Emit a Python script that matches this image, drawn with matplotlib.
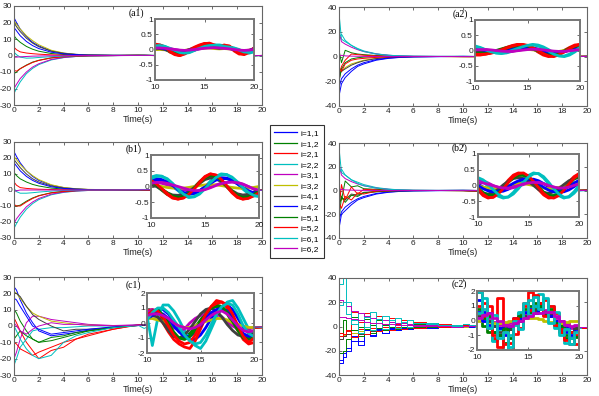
import matplotlib.pyplot as plt

plt.rcParams['font.family'] = 'Liberation Sans'
plt.rcParams['axes.unicode_minus'] = False

# time samples: transient part (0-8 s) and the zoomed window (10-20 s)
t_main = [0, 0.2, 0.5, 1, 1.5, 2, 3, 4, 5, 6, 8]
t_c2 = [0, 0.3, 0.6, 1, 1.5, 2, 2.5, 3, 3.5, 4, 4.5, 5, 5.5, 6, 7, 8, 9]
t_zoom = [10, 10.5, 11, 11.5, 12, 12.5, 13, 13.5, 14, 14.5, 15,
          15.5, 16, 16.5, 17, 17.5, 18, 18.5, 19, 19.5, 20]

labels = ['i=1,1', 'i=1,2', 'i=2,1', 'i=2,2', 'i=3,1', 'i=3,2',
          'i=4,1', 'i=4,2', 'i=5,1', 'i=5,2', 'i=6,1', 'i=6,2']
colors = ['#0000ff', '#008000', '#ff0000', '#00bfbf', '#bf00bf', '#bfbf00',
          '#404040', '#0000ff', '#008000', '#ff0000', '#00bfbf', '#bf00bf']

# ---- (a1)
a1_main = [
    [23, 20, 16, 11.5, 8, 5.8, 2.8, 1.4, 0.7, 0.3, 0.1],
    [12, 10, 8, 5.5, 3.8, 2.6, 1.2, 0.6, 0.3, 0.15, 0.05],
    [5, 3.5, 2.2, 1.5, 1.1, 0.8, 0.4, 0.2, 0.1, 0.05, 0.02],
    [-23, -20, -16, -11, -7.8, -5.5, -2.7, -1.3, -0.6, -0.3, -0.1],
    [-20, -17.5, -14, -10, -7, -5, -2.4, -1.2, -0.6, -0.3, -0.1],
    [21, 19, 16, 12, 9, 6.5, 3.2, 1.5, 0.7, 0.3, 0.1],
    [20, 17.5, 14.5, 10.5, 7.5, 5.3, 2.6, 1.3, 0.6, 0.3, 0.1],
    [17, 15, 12, 8.5, 6, 4.2, 2, 1, 0.5, 0.2, 0.1],
    [-11, -10, -8, -5.8, -4, -2.9, -1.4, -0.7, -0.35, -0.15, -0.05],
    [-9, -9.5, -8, -6, -4.2, -3, -1.5, -0.7, -0.35, -0.15, -0.05],
    [2, 0.5, -1, -1.6, -1.5, -1.2, -0.7, -0.35, -0.15, -0.07, 0],
    [-1, -1, -0.8, -0.6, -0.4, -0.3, -0.15, -0.1, -0.05, 0, 0],
]
a1_zoom = [
    [0.05, 0.04, 0.0, -0.05, -0.08, -0.1, -0.06, 0.0, 0.04, 0.07, 0.1, 0.1, 0.07, 0.05, 0.07, 0.05, 0.0, -0.05, -0.07, -0.03, 0.02],
    [0.1, 0.08, 0.02, -0.08, -0.13, -0.15, -0.1, -0.02, 0.05, 0.1, 0.15, 0.15, 0.1, 0.06, 0.1, 0.08, -0.02, -0.1, -0.12, -0.05, 0.03],
    [0.15, 0.12, 0.05, -0.08, -0.17, -0.2, -0.12, 0.0, 0.08, 0.15, 0.2, 0.2, 0.12, 0.1, 0.15, 0.1, -0.05, -0.15, -0.15, -0.05, 0.05],
    [0.15, 0.15, 0.1, 0.02, -0.05, -0.1, -0.13, -0.1, -0.03, 0.05, 0.1, 0.12, 0.15, 0.15, 0.12, 0.08, 0.05, 0.0, -0.08, -0.12, -0.08],
    [0.02, 0.04, 0.05, 0.03, 0.0, -0.03, -0.05, -0.05, -0.02, 0.02, 0.05, 0.07, 0.08, 0.07, 0.05, 0.03, 0.0, -0.03, -0.05, -0.04, -0.02],
    [0.0, 0.0, -0.01, -0.03, -0.05, -0.05, -0.03, 0.0, 0.02, 0.04, 0.05, 0.05, 0.03, 0.02, 0.03, 0.02, 0.0, -0.03, -0.04, -0.02, 0.0],
    [0.04, 0.03, 0.0, -0.04, -0.07, -0.08, -0.05, 0.0, 0.03, 0.06, 0.08, 0.08, 0.06, 0.04, 0.05, 0.04, 0.0, -0.05, -0.06, -0.03, 0.01],
    [0.08, 0.06, 0.02, -0.04, -0.1, -0.12, -0.08, -0.02, 0.04, 0.08, 0.12, 0.13, 0.09, 0.06, 0.08, 0.06, -0.01, -0.07, -0.1, -0.05, 0.03],
    [0.12, 0.1, 0.05, -0.05, -0.12, -0.15, -0.12, -0.04, 0.04, 0.1, 0.15, 0.17, 0.12, 0.08, 0.1, 0.1, 0.0, -0.1, -0.14, -0.08, 0.02],
    [0.18, 0.15, 0.08, -0.05, -0.15, -0.2, -0.15, -0.03, 0.06, 0.13, 0.19, 0.21, 0.15, 0.1, 0.13, 0.12, 0.0, -0.12, -0.17, -0.1, 0.02],
    [0.12, 0.13, 0.1, 0.04, -0.03, -0.1, -0.12, -0.08, -0.02, 0.04, 0.1, 0.13, 0.14, 0.13, 0.1, 0.08, 0.04, -0.02, -0.08, -0.1, -0.05],
    [0.05, 0.05, 0.04, 0.02, 0.0, -0.02, -0.03, -0.02, 0.0, 0.02, 0.04, 0.05, 0.06, 0.05, 0.04, 0.02, 0.0, -0.02, -0.03, -0.02, 0.0],
]

# ---- (a2)
a2_main = [
    [-32, -22, -17, -12, -8, -6, -3, -1.5, -0.7, -0.3, -0.1],
    [5, -5, 5, 3, 2, 1.5, 0.8, 0.4, 0.2, 0.1, 0],
    [-20, -8, -3, 2, 1.5, 1, 0.5, 0.2, 0.1, 0, 0],
    [35, 14, 12, 9, 6.5, 4.5, 2.2, 1, 0.5, 0.2, 0.1],
    [20, 12, 10, 7.5, 5.5, 4, 2, 1, 0.4, 0.2, 0.1],
    [-10, -12, -9, -6, -4.5, -3, -1.5, -0.7, -0.3, -0.1, 0],
    [-15, -12, -10, -7, -5, -3.5, -1.7, -0.8, -0.4, -0.2, 0],
    [-25, -18, -14, -10, -7, -5, -2.5, -1.2, -0.6, -0.3, -0.1],
    [-20, -10, -5, -2, -1, -0.5, -0.2, 0, 0, 0, 0],
    [-8, -12, -6, -3, -2, -1.5, -0.7, -0.3, -0.1, 0, 0],
    [15, 18, 13, 9, 6, 4, 2, 1, 0.5, 0.2, 0.1],
    [0, 1, 0.5, 0.3, 0.2, 0.1, 0, 0, 0, 0, 0],
]
a2_zoom = [
    [0.05, 0.02, 0.0, -0.03, -0.04, -0.03, 0.0, 0.04, 0.07, 0.09, 0.09, 0.06, 0.02, -0.03, -0.07, -0.09, -0.07, -0.03, 0.02, 0.06, 0.09],
    [-0.1, -0.1, -0.08, -0.05, 0.0, 0.05, 0.1, 0.14, 0.17, 0.17, 0.13, 0.06, -0.03, -0.12, -0.16, -0.15, -0.08, 0.0, 0.08, 0.14, 0.17],
    [-0.15, -0.15, -0.12, -0.08, -0.03, 0.03, 0.1, 0.16, 0.2, 0.2, 0.15, 0.07, -0.05, -0.15, -0.2, -0.18, -0.1, 0.0, 0.1, 0.18, 0.2],
    [0.15, 0.1, 0.03, -0.03, -0.08, -0.1, -0.08, -0.03, 0.03, 0.1, 0.16, 0.2, 0.18, 0.12, 0.03, -0.08, -0.17, -0.2, -0.15, -0.05, 0.08],
    [0.05, 0.05, 0.03, 0.0, -0.03, -0.05, -0.05, -0.03, 0.0, 0.03, 0.05, 0.06, 0.05, 0.02, -0.02, -0.05, -0.06, -0.04, 0.0, 0.03, 0.05],
    [0.0, -0.01, -0.02, -0.03, -0.03, -0.02, 0.0, 0.02, 0.04, 0.05, 0.04, 0.02, 0.0, -0.03, -0.05, -0.05, -0.03, 0.0, 0.02, 0.04, 0.05],
    [-0.02, -0.04, -0.05, -0.04, -0.02, 0.01, 0.05, 0.08, 0.1, 0.1, 0.08, 0.04, -0.01, -0.06, -0.1, -0.1, -0.07, -0.02, 0.03, 0.08, 0.1],
    [0.08, 0.04, 0.0, -0.04, -0.06, -0.05, -0.02, 0.03, 0.07, 0.1, 0.11, 0.09, 0.04, -0.02, -0.07, -0.1, -0.09, -0.04, 0.02, 0.07, 0.1],
    [-0.08, -0.1, -0.1, -0.07, -0.02, 0.03, 0.08, 0.13, 0.16, 0.18, 0.15, 0.08, -0.01, -0.1, -0.15, -0.16, -0.1, -0.02, 0.07, 0.13, 0.16],
    [-0.12, -0.13, -0.12, -0.09, -0.05, 0.02, 0.08, 0.14, 0.18, 0.2, 0.17, 0.1, 0.0, -0.1, -0.18, -0.2, -0.14, -0.05, 0.06, 0.15, 0.2],
    [0.12, 0.08, 0.02, -0.04, -0.08, -0.09, -0.06, 0.0, 0.06, 0.12, 0.17, 0.18, 0.15, 0.08, -0.02, -0.12, -0.18, -0.18, -0.12, -0.02, 0.1],
    [0.02, 0.03, 0.03, 0.02, 0.0, -0.02, -0.03, -0.03, -0.01, 0.01, 0.03, 0.04, 0.04, 0.02, 0.0, -0.02, -0.03, -0.03, -0.01, 0.01, 0.03],
]

# ---- (b1)
b1_main = [
    [24, 21, 17, 12, 8.5, 6, 3, 1.5, 0.7, 0.3, 0.1],
    [11, 9, 7, 5, 3.5, 2.5, 1.2, 0.6, 0.3, 0.1, 0],
    [5, 3, 1.5, 1, 0.7, 0.5, 0.3, 0.1, 0.05, 0, 0],
    [-24, -21, -17, -12, -8.5, -6, -3, -1.5, -0.7, -0.3, -0.1],
    [-21, -18, -15, -10.5, -7.5, -5.3, -2.6, -1.3, -0.6, -0.3, -0.1],
    [21, 19, 16, 12, 9, 6.5, 3.3, 1.6, 0.8, 0.4, 0.1],
    [19, 17, 14, 10, 7, 5, 2.5, 1.2, 0.6, 0.3, 0.1],
    [17, 15, 12, 8.5, 6, 4.2, 2, 1, 0.5, 0.2, 0.1],
    [-10, -10, -9.5, -7, -5, -3.5, -1.7, -0.8, -0.4, -0.2, 0],
    [-9, -10, -10, -7.5, -5.3, -3.7, -1.8, -0.9, -0.4, -0.2, 0],
    [1, -1, -2, -2, -1.7, -1.3, -0.7, -0.3, -0.15, -0.07, 0],
    [-1, -0.5, 0, 0, 0, 0, 0, 0, 0, 0, 0],
]
b1_zoom = [
    [0.2, 0.25, 0.22, 0.13, 0.0, -0.12, -0.22, -0.25, -0.22, -0.13, 0.0, 0.13, 0.23, 0.28, 0.27, 0.2, 0.08, -0.05, -0.16, -0.22, -0.22],
    [0.1, 0.02, -0.12, -0.25, -0.33, -0.35, -0.3, -0.18, -0.02, 0.15, 0.28, 0.33, 0.3, 0.17, 0.0, -0.17, -0.3, -0.33, -0.3, -0.22, -0.12],
    [0.15, 0.05, -0.1, -0.25, -0.37, -0.4, -0.35, -0.22, -0.05, 0.15, 0.32, 0.4, 0.35, 0.2, 0.0, -0.2, -0.35, -0.4, -0.36, -0.28, -0.18],
    [0.3, 0.35, 0.33, 0.22, 0.05, -0.13, -0.28, -0.35, -0.32, -0.2, -0.02, 0.17, 0.32, 0.4, 0.38, 0.27, 0.1, -0.08, -0.22, -0.3, -0.3],
    [0.15, 0.13, 0.1, 0.05, 0.0, -0.05, -0.1, -0.13, -0.15, -0.13, -0.08, -0.02, 0.05, 0.1, 0.13, 0.15, 0.13, 0.08, 0.0, -0.08, -0.13],
    [0.05, 0.03, 0.0, -0.03, -0.05, -0.06, -0.05, -0.03, 0.0, 0.03, 0.05, 0.06, 0.05, 0.03, 0.0, -0.03, -0.05, -0.06, -0.05, -0.03, 0.0],
    [0.05, 0.0, -0.1, -0.2, -0.27, -0.28, -0.25, -0.16, -0.03, 0.1, 0.22, 0.27, 0.25, 0.15, 0.0, -0.13, -0.23, -0.27, -0.25, -0.18, -0.1],
    [0.15, 0.2, 0.2, 0.14, 0.03, -0.1, -0.19, -0.23, -0.21, -0.14, -0.02, 0.1, 0.2, 0.25, 0.25, 0.19, 0.09, -0.03, -0.13, -0.2, -0.2],
    [0.15, 0.05, -0.08, -0.2, -0.3, -0.35, -0.32, -0.22, -0.06, 0.12, 0.27, 0.35, 0.33, 0.2, 0.02, -0.15, -0.28, -0.35, -0.33, -0.25, -0.15],
    [0.2, 0.08, -0.07, -0.22, -0.35, -0.4, -0.37, -0.25, -0.08, 0.12, 0.3, 0.4, 0.37, 0.23, 0.03, -0.17, -0.33, -0.4, -0.38, -0.3, -0.2],
    [0.25, 0.32, 0.32, 0.25, 0.1, -0.08, -0.24, -0.33, -0.33, -0.24, -0.07, 0.12, 0.28, 0.37, 0.38, 0.3, 0.15, -0.03, -0.18, -0.28, -0.32],
    [0.1, 0.13, 0.13, 0.1, 0.05, 0.0, -0.05, -0.1, -0.13, -0.13, -0.1, -0.04, 0.03, 0.09, 0.13, 0.14, 0.12, 0.07, 0.0, -0.07, -0.12],
]

# ---- (b2)
b2_main = [
    [-32, -20, -17, -12, -8, -6, -3, -1.5, -0.7, -0.3, -0.1],
    [5, -8, 8, 3, 4, 1.5, 1, 0.4, 0.2, 0.1, 0],
    [-15, 5, -8, 3, -3, 1, 0.5, 0.2, 0.1, 0, 0],
    [36, 15, 13, 9, 7, 5, 2.5, 1.2, 0.5, 0.2, 0.1],
    [22, 13, 10, 7.5, 5.5, 4, 2, 1, 0.4, 0.2, 0.1],
    [-10, -8, -6, -4, -3, -2, -1, -0.5, -0.2, -0.1, 0],
    [-12, -6, -8, -3, -4, -1.5, -1, -0.4, -0.2, -0.1, 0],
    [-25, -18, -14, -10, -7, -5, -2.5, -1.2, -0.6, -0.3, -0.1],
    [-25, -5, -10, -4, -5, -2, -1, -0.5, -0.2, -0.1, 0],
    [-10, -15, -5, -8, -2, -3, -0.5, -0.3, -0.1, 0, 0],
    [15, 18, 13, 9, 6, 4, 2, 1, 0.5, 0.2, 0.1],
    [0, 1, 0.5, 0.3, 0.2, 0.1, 0, 0, 0, 0, 0],
]
b2_zoom = [
    [0.05, -0.05, -0.12, -0.17, -0.2, -0.18, -0.12, -0.03, 0.07, 0.15, 0.2, 0.2, 0.15, 0.06, -0.05, -0.14, -0.2, -0.2, -0.14, -0.04, 0.07],
    [-0.12, -0.27, -0.33, -0.3, -0.18, -0.02, 0.14, 0.27, 0.33, 0.32, 0.22, 0.06, -0.1, -0.25, -0.33, -0.32, -0.22, -0.06, 0.1, 0.24, 0.32],
    [-0.15, -0.32, -0.4, -0.36, -0.22, -0.03, 0.17, 0.33, 0.4, 0.38, 0.25, 0.07, -0.13, -0.3, -0.4, -0.38, -0.27, -0.08, 0.12, 0.28, 0.38],
    [0.2, 0.12, -0.02, -0.2, -0.34, -0.4, -0.36, -0.22, -0.03, 0.16, 0.32, 0.4, 0.37, 0.24, 0.05, -0.15, -0.32, -0.4, -0.35, -0.2, 0.0],
    [0.2, 0.15, 0.08, 0.0, -0.06, -0.1, -0.1, -0.07, -0.02, 0.03, 0.08, 0.1, 0.1, 0.06, 0.0, -0.05, -0.08, -0.08, -0.04, 0.02, 0.08],
    [0.0, -0.05, -0.08, -0.1, -0.08, -0.05, 0.0, 0.04, 0.06, 0.06, 0.03, 0.0, -0.04, -0.08, -0.1, -0.09, -0.06, -0.02, 0.02, 0.05, 0.06],
    [-0.15, -0.25, -0.27, -0.22, -0.12, 0.02, 0.13, 0.22, 0.25, 0.22, 0.13, 0.0, -0.13, -0.22, -0.25, -0.2, -0.1, 0.03, 0.15, 0.22, 0.25],
    [0.0, -0.1, -0.17, -0.2, -0.18, -0.12, -0.03, 0.07, 0.15, 0.2, 0.2, 0.15, 0.05, -0.06, -0.15, -0.2, -0.19, -0.12, -0.02, 0.08, 0.16],
    [-0.08, -0.22, -0.3, -0.31, -0.23, -0.08, 0.1, 0.24, 0.32, 0.34, 0.26, 0.11, -0.05, -0.21, -0.31, -0.33, -0.26, -0.12, 0.05, 0.2, 0.3],
    [-0.1, -0.27, -0.38, -0.38, -0.27, -0.1, 0.1, 0.28, 0.38, 0.4, 0.3, 0.13, -0.07, -0.25, -0.37, -0.4, -0.32, -0.15, 0.05, 0.23, 0.35],
    [0.25, 0.18, 0.05, -0.13, -0.28, -0.37, -0.37, -0.27, -0.1, 0.1, 0.27, 0.37, 0.38, 0.28, 0.1, -0.1, -0.27, -0.37, -0.37, -0.25, -0.07],
    [0.1, 0.08, 0.04, -0.01, -0.05, -0.08, -0.08, -0.05, 0.0, 0.05, 0.08, 0.1, 0.09, 0.05, 0.0, -0.05, -0.08, -0.08, -0.05, 0.0, 0.05],
]

# ---- (c1)
c1_main = [
    [24, 22, 16, 8, 2, -3, -6, -5, -4, -2.5, -1],
    [10, 8, 3, -3, -8, -10, -7, -6, -4, -3, -1],
    [5, 2, -3, -10, -15, -20, -15, -13, -8, -6, -2],
    [-24, -20, -13, -8, -3, -2, -1, -1, -0.5, 0, 0],
    [-20, -16, -8, 2, 6, 6, 4, 3, 2, 1, 0.3],
    [21, 20, 17, 12, 8, 6, 3, 2, 1, 0.5, 0.2],
    [20, 20, 18, 12, 7, 4, 0, -3, -2, -2, -1],
    [17, 16, 12, 6, 0, -2, -5, -4, -3, -2, -0.5],
    [-8, -6, -3, -6, -8, -10, -9, -7, -5, -3, -1],
    [-10, -11, -14, -16, -18, -16, -13, -10, -8, -5, -2],
    [0, -3, -8, -14, -18, -20, -18, -10, -6, -4, -1],
    [2, 0, -3, -5, -2, 0, 2, 1, 1, 0.5, 0.2],
]
c1_zoom = [
    [0.5, 0.8, 0.9, 0.9, 0.6, 0.1, -0.4, -0.8, -1.1, -1.1, -0.8, -0.3, 0.3, 0.8, 1.1, 1.2, 0.9, 0.3, -0.3, -0.7, -0.8],
    [0.7, 0.8, 0.6, 0.2, -0.3, -0.8, -1.0, -1.0, -0.7, -0.3, 0.2, 0.7, 1.0, 1.1, 1.0, 0.6, 0.0, -0.5, -0.9, -1.0, -0.9],
    [0.8, 0.9, 0.6, 0.0, -0.6, -1.1, -1.4, -1.6, -1.7, -1.2, -0.4, 0.4, 1.1, 1.5, 1.4, 1.0, 0.3, -0.5, -1.1, -1.4, -1.3],
    [0.5, -1.5, 0.3, 1.2, 1.2, 0.8, 0.2, -0.5, -1.1, -1.5, -1.7, -1.2, -0.4, 0.4, 1.0, 1.4, 1.5, 1.0, 0.3, -0.4, -0.8],
    [0.7, 0.9, 0.8, 0.5, 0.1, -0.3, -0.5, -0.4, 0.0, 0.3, 0.5, 0.6, 0.7, 0.6, 0.4, 0.1, -0.2, -0.4, -0.5, -0.4, -0.3],
    [0.3, 0.3, 0.2, 0.1, 0.0, -0.1, -0.2, -0.3, -0.3, -0.2, 0.0, 0.1, 0.2, 0.3, 0.3, 0.2, 0.0, -0.1, -0.2, -0.3, -0.3],
    [0.3, 0.5, 0.4, 0.0, -0.5, -0.9, -1.0, -0.8, -0.4, 0.1, 0.6, 0.9, 1.0, 0.8, 0.4, -0.1, -0.5, -0.8, -0.9, -0.8, -0.7],
    [0.3, 0.5, 0.7, 0.6, 0.3, -0.2, -0.6, -0.9, -0.9, -0.6, -0.2, 0.3, 0.7, 0.9, 1.0, 0.8, 0.3, -0.3, -0.7, -0.9, -0.8],
    [0.3, 0.8, 0.9, 0.5, 0.0, -0.6, -1.0, -1.1, -0.9, -0.5, 0.1, 0.6, 1.0, 1.2, 1.1, 0.7, 0.1, -0.5, -1.0, -1.1, -1.0],
    [0.5, 0.8, 0.8, 0.4, -0.2, -0.8, -1.2, -1.4, -1.3, -0.8, -0.1, 0.6, 1.1, 1.3, 1.4, 1.2, 0.6, -0.2, -0.9, -1.3, -1.0],
    [0.2, 0.7, 1.0, 1.0, 0.7, 0.2, -0.3, -0.8, -1.2, -1.4, -1.3, -0.8, -0.1, 0.6, 1.1, 1.3, 1.2, 0.6, -0.2, -0.7, -0.9],
    [0.5, 0.6, 0.6, 0.5, 0.3, 0.0, -0.2, -0.3, -0.4, -0.3, -0.1, 0.2, 0.5, 0.7, 0.8, 0.6, 0.2, -0.2, -0.5, -0.6, -0.5],
]

# ---- (c2)  (sampled on t_c2, then t_zoom)
c2_main = [
    [-30, -25, -20, -12, -15, -6, -8, -3, -5, -2, -3, -1, -2, -1, -1, -0.5, -0.3],
    [-5, 5, -3, 8, 0, 6, 1, 5, 1, 4, 1, 3, 1, 2, 1.5, 1, 0.5],
    [-5, -8, -3, 12, -2, 11, -1, 9, 0, 7, 0, 5, 0, 4, 3, 2, 1],
    [35, 40, 20, 2, 11, 0, 12, -1, 9, 0, 7, 0, 5, 0, 3, 1.5, 1],
    [22, 20, 17, 13, 11, 9, 7, 6, 5, 4, 3, 2.5, 2, 1.5, 1, 0.5, 0.3],
    [-8, -7, -6, -5, -4, -3, -3, -2, -2, -1.5, -1, -1, -0.5, -0.5, -0.3, -0.2, 0],
    [-10, -8, -6, -3, -6, -2, -4, -1, -3, -1, -2, 0, -1, 0, -0.5, 0, 0],
    [-28, -22, -18, -8, -12, -3, -7, -2, -5, -1, -3, -1, -2, 0, -0.5, 0, 0],
    [-22, -20, -10, -3, -8, -2, -5, -1, -3, 0, -2, 0, -1, 0, 0, 0, 0],
    [-8, -6, -4, -9, 4, -6, 3, -4, 2, -3, 2, -2, 1, -1, 0.5, 0, 0],
    [18, 20, 10, 5, -5, 8, -3, 6, -2, 5, -1, 4, 0, 3, 2, 1, 0.5],
    [8, 8, 7, 6, 5, 4, 3, 3, 2, 2, 1.5, 1, 1, 0.5, 0.3, 0.1, 0],
]
c2_zoom = [
    [1.4, 0.6, 0.5, -0.4, -1.0, -0.3, -0.5, 0.2, 0.3, 0.5, 0.6, 1.0, 0.8, 0.5, 0.4, -0.3, -0.6, -0.8, -1.0, -0.5, -0.2],
    [0.5, -0.4, -0.8, -1.3, -0.5, -1.5, -0.6, -0.2, 0.5, 0.3, 1.0, 0.8, 1.2, 0.4, 0.6, -0.4, -0.8, -1.0, -1.2, -0.5, 0.3],
    [1.9, 1.2, -0.5, -1.2, 1.5, -1.6, -2.0, -0.9, 0.2, 1.0, 1.9, 0.6, 1.2, 1.4, 0.3, 0.5, -0.8, -0.4, -1.6, -1.0, 0.2],
    [1.9, 0.8, 0.0, -1.4, -0.6, -2.0, -1.0, -0.3, 0.6, 0.2, 1.4, 1.0, 1.8, 0.6, 1.0, -0.5, -0.3, -1.5, -1.2, -0.4, 0.6],
    [0.5, 0.4, 0.2, -0.1, -0.3, -0.2, -0.2, 0.1, 0.3, 0.4, 0.5, 0.6, 0.8, 0.7, 0.5, 0.2, 0.0, -0.2, -0.5, -0.4, 0.0],
    [0.0, 0.0, -0.1, -0.2, -0.2, -0.1, 0.0, 0.1, 0.2, 0.2, 0.2, 0.2, 0.1, 0.0, -0.1, -0.2, -0.2, -0.1, 0.0, 0.0, 0.0],
    [0.3, 0.2, 0.0, -0.4, -0.8, -0.5, -0.6, -0.2, 0.0, 0.3, 0.6, 0.7, 0.8, 0.5, 0.4, 0.0, -0.4, -0.6, -0.8, -0.5, 0.0],
    [0.6, 0.0, -0.3, -0.8, -0.5, -1.0, -0.4, 0.0, 0.2, 0.6, 0.8, 0.5, 1.0, 0.6, 0.3, 0.0, -0.5, -0.4, -0.8, -0.7, 0.2],
    [0.8, 0.2, 0.3, -0.8, -1.0, -0.6, -1.2, 0.0, 0.3, 0.8, 0.6, 1.2, 1.0, 0.6, 0.8, -0.2, -0.4, -1.2, -0.8, -1.1, 0.5],
    [1.0, 0.3, 1.0, -1.0, -1.8, -0.8, -1.5, 0.2, -0.5, 1.2, 0.7, 1.7, 1.2, 0.3, 1.0, -0.3, -0.6, -1.3, -0.8, -1.6, -0.4],
    [0.5, 1.5, -0.5, 0.4, -1.2, -0.8, -1.8, 0.0, -0.6, 1.2, 0.4, 1.6, 0.8, 1.5, -0.2, 0.6, -1.0, -0.6, -1.6, -0.8, -0.2],
    [0.2, 0.4, 0.5, 0.2, 0.0, -0.3, -0.4, -0.2, 0.0, 0.2, 0.3, 0.5, 0.5, 0.6, 0.6, 0.3, 0.0, -0.3, -0.4, -0.3, -0.2],
]

W, H = 599, 396


def rect(l, t_, r, b):
    return [l / W, 1 - b / H, (r - l) / W, (b - t_) / H]


panels = [
    # main, zoom, early times, main box, inset box, ymax, yticks, inset ymax, tag, tag pos, steps
    (a1_main, a1_zoom, t_main, (14, 6, 262, 105), (155, 19, 254, 80), 30, range(-30, 31, 10), 1, '(a1)', (136, 13), False),
    (a2_main, a2_zoom, t_main, (339, 7, 587, 106), (475, 20, 580, 81), 40, range(-40, 41, 20), 1, '(a2)', (460, 14), False),
    (b1_main, b1_zoom, t_main, (14, 142, 262, 238), (151, 155, 259, 218), 30, range(-30, 31, 10), 1, '(b1)', (134, 149), False),
    (b2_main, b2_zoom, t_main, (339, 143, 587, 238), (478, 154, 579, 217), 40, range(-40, 41, 20), 1, '(b2)', (460, 148), False),
    (c1_main, c1_zoom, t_main, (14, 277, 262, 375), (147, 293, 254, 353), 30, range(-30, 31, 10), 2, '(c1)', (133, 285), False),
    (c2_main, c2_zoom, t_c2, (339, 278, 587, 375), (477, 291, 579, 350), 40, range(-40, 41, 20), 2, '(c2)', (459, 284), True),
]

fig = plt.figure(figsize=(5.99, 3.96), dpi=100)


def frame(ax, col, lw):
    for s in ax.spines.values():
        s.set_color(col)
        s.set_linewidth(lw)
    ax.tick_params(direction='in', top=True, right=True, length=2.5, width=0.6,
                   color='#555555', labelsize=6, pad=1.5, labelcolor='#222222')


handles = None
for main, zoom, te, box, ibox, ymax, yt, iy, tag, tpos, steps in panels:
    ds = 'steps-post' if steps else 'default'
    tt = te + t_zoom
    ax = fig.add_axes(rect(*box))
    lines = []
    for m, z, c in zip(main, zoom, colors):
        ln, = ax.plot(tt, m + z, color=c, lw=0.7, drawstyle=ds)
        lines.append(ln)
    if handles is None:
        handles = lines
    ax.set_xlim(0, 20)
    ax.set_ylim(-ymax, ymax)
    ax.set_xticks(range(0, 21, 2))
    ax.set_yticks(list(yt))
    ax.set_xlabel('Time(s)', fontsize=6.5, labelpad=1, color='#222222')
    frame(ax, '#666666', 0.8)

    axi = fig.add_axes(rect(*ibox))
    for z, c in zip(zoom, colors):
        axi.plot(t_zoom, z, color=c, lw=2, drawstyle=ds)
    axi.set_xlim(10, 20)
    axi.set_ylim(-iy, iy)
    axi.set_xticks([10, 15, 20])
    if iy == 1:
        axi.set_yticks([-1, -0.5, 0, 0.5, 1])
        axi.set_yticklabels(['-1', '-0.5', '0', '0.5', '1'])
    else:
        axi.set_yticks([-2, -1, 0, 1, 2])
    frame(axi, '#777777', 1.4)
    axi.tick_params(axis='x', pad=3)

    fig.text(tpos[0] / W, 1 - tpos[1] / H, tag, fontsize=7, family='Liberation Serif',
             ha='center', va='center')

leg = fig.legend(handles, labels, loc='upper left', bbox_to_anchor=(270 / W, 1 - 125 / H),
                 fontsize=6, frameon=True, fancybox=False, edgecolor='black',
                 handlelength=2.7, handletextpad=0.5, labelspacing=0.33, borderpad=0.5,
                 borderaxespad=0)
leg.get_frame().set_linewidth(0.8)
for ln in leg.get_lines():
    ln.set_linewidth(0.9)

plt.savefig('out.png', dpi=100)
